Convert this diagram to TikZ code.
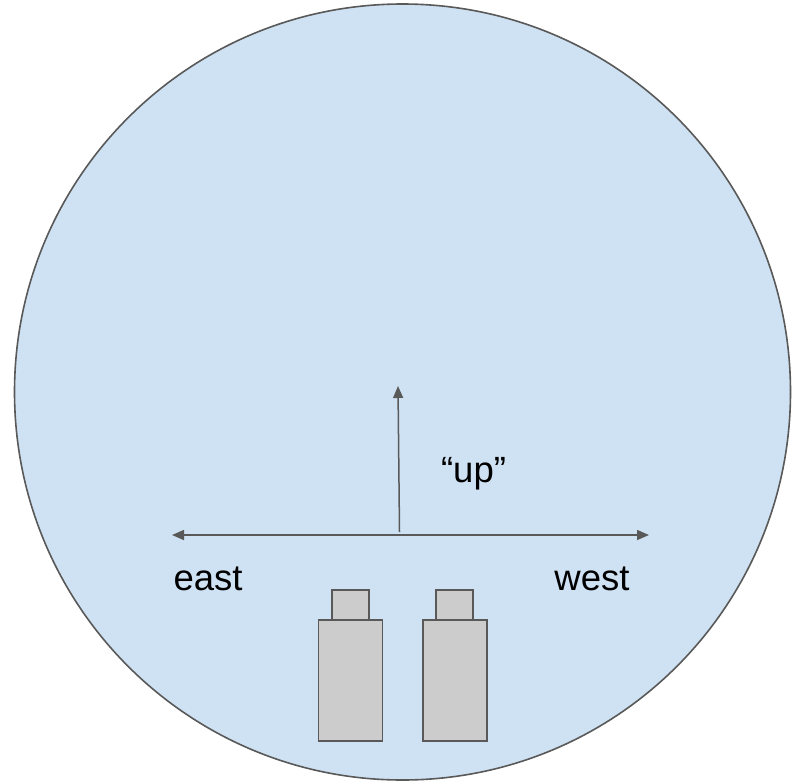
\documentclass[tikz,border=0pt]{standalone}
\usepackage{fontspec}
\setmainfont{Liberation Sans}
\usetikzlibrary{arrows.meta}
\definecolor{skyfill}{HTML}{CFE2F3}
\definecolor{ink}{HTML}{595959}
\definecolor{bodyfill}{HTML}{CCCCCC}
\begin{document}
\begin{tikzpicture}[x=1pt,y=-1pt,
  outline/.style={draw=ink,line width=1.6pt},
  tube/.style={outline,fill=bodyfill,line width=1.5pt},
  axis/.style={draw=ink,line width=1.5pt,-{Triangle[length=12pt,width=10pt]}},
  lbl/.style={font=\fontsize{36.5}{42}\selectfont,text=black,inner sep=0pt,anchor=base}]
\useasboundingbox (0,0) rectangle (800,782);
% field of view
\node[outline,fill=skyfill,circle,minimum size=776pt,inner sep=0pt] (view) at (402.5,392) {};
% horizon and vertical axes
\coordinate (mid) at (399,535);
\coordinate (E) at (172,535);
\coordinate (W) at (649,535);
\coordinate (upbase) at (399.5,532);
\coordinate (uptip) at (398,386);
\draw[axis] (mid) -- (E);
\draw[axis] (mid) -- (W);
\draw[axis] (upbase) -- (uptip);
% labels
\node[lbl] (east) at (208,590) {east};
\node[lbl] (west) at (592,590) {west};
\node[lbl] (up) at (473.5,482) {“up”};
% binoculars
\draw[tube] (332,590) rectangle (369,620);
\draw[tube] (318.5,620) rectangle (382.5,741);
\draw[tube] (436,590) rectangle (473,620);
\draw[tube] (423,620) rectangle (487,741);
\end{tikzpicture}
\end{document}
